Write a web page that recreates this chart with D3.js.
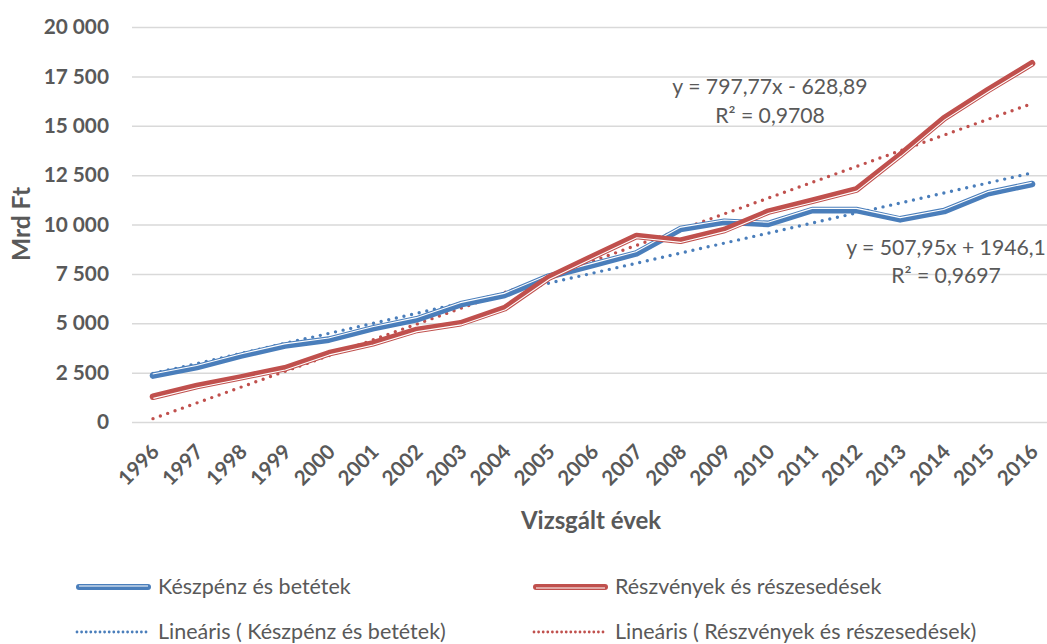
<!DOCTYPE html>
<html>
<head>
<meta charset="utf-8">
<script src="https://cdn.jsdelivr.net/npm/d3@7"></script>
<style>
  html, body { margin: 0; padding: 0; background: #fff; }
  svg { display: block; font-family: Lato, "Open Sans", sans-serif; }
</style>
</head>
<body>
<svg id="chart" width="1047" height="644"></svg>
<script>
// ---- data ----
const years = [1996,1997,1998,1999,2000,2001,2002,2003,2004,2005,2006,2007,2008,2009,2010,2011,2012,2013,2014,2015,2016];
const keszpenz = [2350,2780,3360,3870,4170,4740,5200,5960,6430,7360,7950,8540,9770,10140,10030,10730,10730,10260,10680,11580,12050];
const reszveny = [1280,1820,2260,2720,3480,3980,4660,5000,5760,7300,8370,9420,9180,9720,10650,11200,11770,13520,15380,16810,18160];
const yTicks = [0,2500,5000,7500,10000,12500,15000,17500,20000];
const seriesNames = ["Készpénz és betétek", "Részvények és részesedések"];
const trendNames = ["Lineáris ( Készpénz és betétek)", "Lineáris ( Részvények és részesedések)"];
const trendSlope = [507.95, 797.77];
const trendIntercept = [1946.1, -628.89];
const trendEq = ["y = 507,95x + 1946,1", "y = 797,77x - 628,89"];
const trendR2 = ["R² = 0,9697", "R² = 0,9708"];
const yTitle = "Mrd Ft";
const xTitle = "Vizsgált évek";

// ---- setup ----
const svg = d3.select("#chart");
const colors = ["#4A7EBB", "#C0504D"];
const textColor = "#595959";
const x = d3.scalePoint().domain(years).range([153, 1032]);
const y = d3.scaleLinear().domain([0, 20000]).range([422, 27]);
const loc = d3.formatLocale({decimal: ",", thousands: " ", grouping: [3], currency: ["", ""]});
const fmt = loc.format(",d");

// gridlines + y labels
const yAxis = d3.axisLeft(y).tickValues(yTicks).tickFormat(fmt).tickSize(-(1047 - 132)).tickPadding(23);
const gy = svg.append("g").attr("transform", "translate(132,0)").call(yAxis);
gy.select(".domain").remove();
gy.selectAll(".tick line").attr("stroke", "#D9D9D9").attr("stroke-width", 1.5);
gy.selectAll(".tick text")
  .attr("fill", textColor).attr("font-size", 20.8).attr("font-weight", "bold")
  .attr("font-family", "Lato, sans-serif");

// x labels
const xAxis = d3.axisBottom(x).tickSize(0).tickPadding(0);
const gx = svg.append("g").attr("transform", "translate(0,422)").call(xAxis);
gx.select(".domain").remove();
gx.selectAll(".tick text")
  .attr("fill", textColor).attr("font-size", 20.5).attr("font-weight", "bold")
  .attr("font-family", "Lato, sans-serif")
  .attr("text-anchor", "end").attr("dy", null).attr("y", null)
  .attr("transform", "translate(7,31) rotate(-45)");

// axis titles
svg.append("text").attr("transform", "translate(30,224) rotate(-90)")
  .attr("text-anchor", "middle").attr("fill", textColor)
  .attr("font-size", 24.5).attr("font-weight", "bold").text(yTitle);
svg.append("text").attr("x", 591).attr("y", 529)
  .attr("text-anchor", "middle").attr("fill", textColor)
  .attr("font-size", 24).attr("font-weight", "bold").text(xTitle);

// offset polyline helper (pixel space), positive d = visually upward side
function offsetPts(pts, d) {
  const n = pts.length;
  const segN = [];
  for (let i = 0; i < n - 1; i++) {
    const dx = pts[i+1][0] - pts[i][0], dy = pts[i+1][1] - pts[i][1];
    const L = Math.hypot(dx, dy);
    segN.push([dy / L, -dx / L]);
  }
  return pts.map((p, i) => {
    let nv;
    if (i === 0) nv = segN[0];
    else if (i === n - 1) nv = segN[n - 2];
    else {
      const a = segN[i-1], b = segN[i];
      let mx = a[0] + b[0], my = a[1] + b[1];
      const ml = Math.hypot(mx, my);
      mx /= ml; my /= ml;
      const c = mx * a[0] + my * a[1];
      nv = [mx / c, my / c];
    }
    return [p[0] + nv[0] * d, p[1] + nv[1] * d];
  });
}
const lineGen = d3.line();

function compoundLine(g, pts, color, whiteOffset, w) {
  g.append("path").attr("d", lineGen(pts)).attr("fill", "none")
    .attr("stroke", color).attr("stroke-width", w)
    .attr("stroke-linecap", "round").attr("stroke-linejoin", "round");
  g.append("path").attr("d", lineGen(offsetPts(pts, whiteOffset))).attr("fill", "none")
    .attr("stroke", "#fff").attr("stroke-width", 1.1)
    .attr("stroke-linejoin", "round");
}

// trend lines
const plot = svg.append("g");
[0, 1].forEach(k => {
  const pts = years.map((yr, i) => [x(yr), y(trendIntercept[k] + trendSlope[k] * (i + 1))]);
  plot.append("path").attr("d", lineGen(pts)).attr("fill", "none")
    .attr("stroke", colors[k]).attr("stroke-width", 3.4)
    .attr("stroke-linecap", "round").attr("stroke-dasharray", "0 7.8");
});

// series lines
const seriesData = [keszpenz, reszveny];
const whiteOff = [1.7, -1.7];
[0, 1].forEach(k => {
  const pts = years.map((yr, i) => [x(yr), y(seriesData[k][i])]);
  compoundLine(plot.append("g"), pts, colors[k], whiteOff[k], 6.6);
});

// equation labels
const eqPos = [[946, 255, 283], [770, 94, 123]];
[0, 1].forEach(k => {
  svg.append("text").attr("x", eqPos[k][0]).attr("y", eqPos[k][1])
    .attr("text-anchor", "middle").attr("fill", textColor).attr("font-size", 21.2).text(trendEq[k]);
  svg.append("text").attr("x", eqPos[k][0]).attr("y", eqPos[k][2])
    .attr("text-anchor", "middle").attr("fill", textColor).attr("font-size", 21.2).text(trendR2[k]);
});

// legend
const legX = [76, 533];
const legY = [587, 632];
[0, 1].forEach(k => {
  const g = svg.append("g");
  compoundLine(g, [[legX[k] + 3, legY[0]], [legX[k] + 72, legY[0]]], colors[k], whiteOff[k] * 0.6, 6);
  g.append("text").attr("x", legX[k] + 82).attr("y", legY[0] + 7)
    .attr("fill", textColor).attr("font-size", 21.5).text(seriesNames[k]);
  g.append("line").attr("x1", legX[k] + 1).attr("x2", legX[k] + 74)
    .attr("y1", legY[1]).attr("y2", legY[1])
    .attr("stroke", colors[k]).attr("stroke-width", 2.8)
    .attr("stroke-linecap", "round").attr("stroke-dasharray", "0 4.6");
  g.append("text").attr("x", legX[k] + 82).attr("y", legY[1] + 7)
    .attr("fill", textColor).attr("font-size", 21.5).text(trendNames[k]);
});
</script>
</body>
</html>
